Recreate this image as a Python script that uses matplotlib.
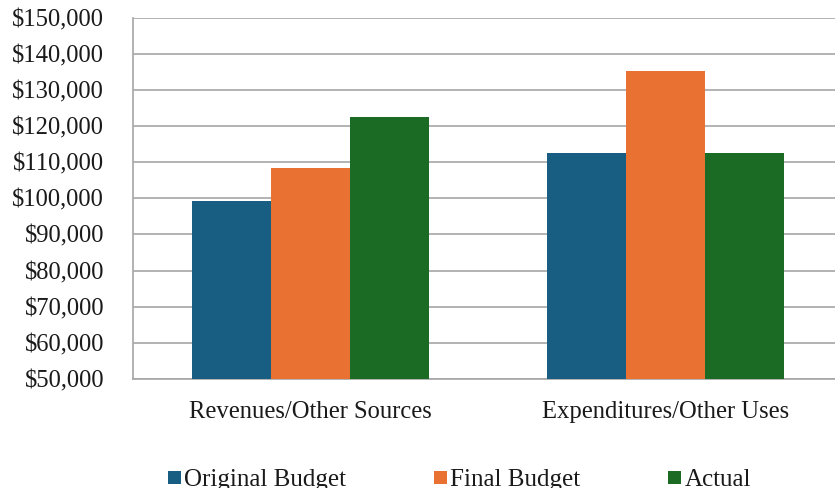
import matplotlib
matplotlib.use("Agg")
import matplotlib.pyplot as plt
from matplotlib.ticker import FuncFormatter
import numpy as np

categories = ["Revenues/Other Sources", "Expenditures/Other Uses"]
series_names = ["Original Budget", "Final Budget", "Actual"]
original_budget = [99200, 112400]
final_budget = [108450, 135200]
actual = [122450, 112400]
colors = ["#175E82", "#E97132", "#1B6B24"]

plt.rcParams["font.family"] = ["Liberation Serif", "DejaVu Serif"]

fig = plt.figure(figsize=(8.35, 4.88), dpi=100)
ax = fig.add_axes([132.7 / 835, 1 - 379 / 488, (843 - 132.7) / 835, (379 - 17.5) / 488])

x = np.arange(len(categories))
width = 0.222
values = [original_budget, final_budget, actual]
for i, (name, vals, c) in enumerate(zip(series_names, values, colors)):
    ax.bar(x + (i - 1) * width, vals, width, color=c, label=name, zorder=3)

ax.set_xlim(-0.5, 1.5)
ax.set_ylim(50000, 150000)
ax.set_yticks(np.arange(50000, 150001, 10000))
ax.yaxis.set_major_formatter(FuncFormatter(lambda v, p: f"${v:,.0f}"))
ax.set_xticks(x)
ax.set_xticklabels(categories)
ax.tick_params(axis="both", length=0, labelsize=17.7, colors="#1a1a1a")
ax.tick_params(axis="x", pad=16)
ax.tick_params(axis="y", pad=20.5)
ax.grid(axis="y", color="#A6A6A6", linewidth=1.2, zorder=0)
for s in ["top", "right"]:
    ax.spines[s].set_visible(False)
for s in ["left", "bottom"]:
    ax.spines[s].set_color("#A6A6A6")
    ax.spines[s].set_linewidth(1.2)

fig.legend(loc="center left", bbox_to_anchor=(155 / 835, (488 - 480) / 488), ncol=3,
           frameon=False, borderpad=0, fontsize=18, handlelength=0.52,
           handleheight=0.42, handletextpad=0.15, columnspacing=3.5,
           labelcolor="#1a1a1a")

fig.savefig("out.png", dpi=100)
